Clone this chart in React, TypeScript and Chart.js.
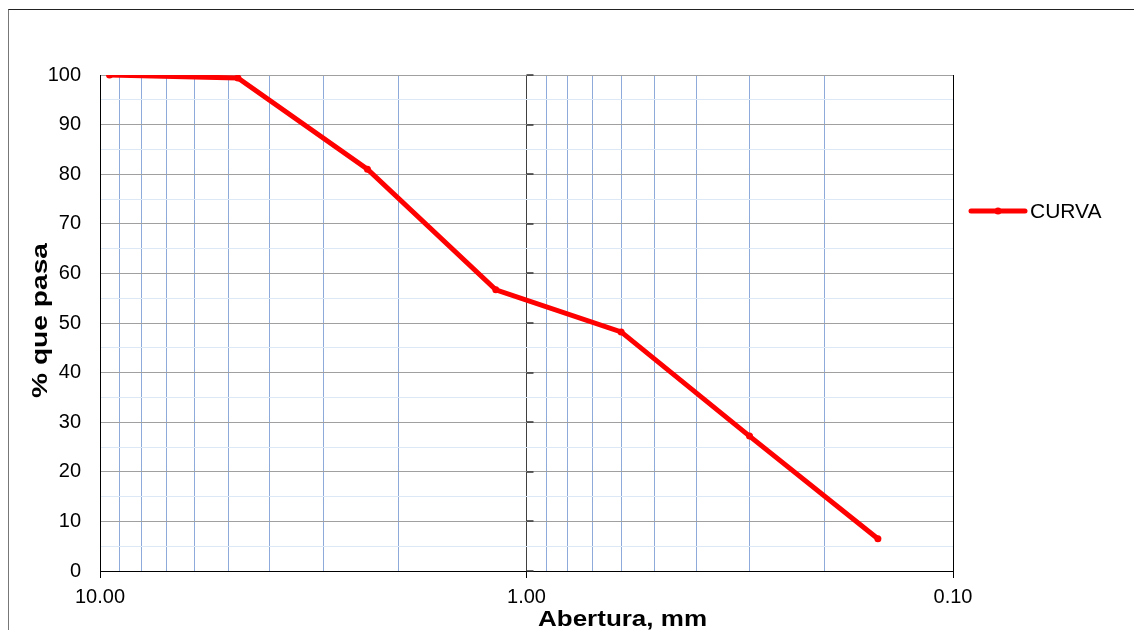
import { useEffect, useRef } from "react";
import { Chart, registerables } from "chart.js";

Chart.register(...registerables);

// Grain-size distribution: sieve opening (mm) vs. cumulative % passing
const sieveOpenings = [9.5, 4.75, 2.36, 1.18, 0.6, 0.3, 0.15];
const percentPassing = [100, 99.4, 81.0, 56.7, 48.2, 27.2, 6.5];
const seriesLabel = "CURVA";

// Log-axis grid values (one line per 1..9 step in each decade) and the labelled decades
const xGridValues = [10, 9, 8, 7, 6, 5, 4, 3, 2, 1, 0.9, 0.8, 0.7, 0.6, 0.5, 0.4, 0.3, 0.2, 0.1];
const xLabeledValues = [10, 1, 0.1];
const xMin = 0.1;
const xMax = 10;

const yMin = 0;
const yMax = 100;
const yGridStep = 5;
const yLabelStep = 10;

const xTitle = "Abertura, mm";
const yTitle = "% que pasa";

const FONT = "'Liberation Sans', Arial, sans-serif";
const RED = "#ff0000";

const isDecade = (v: number) => xLabeledValues.some((d) => Math.abs(d - v) < 1e-9);

const decorations = {
  id: "decorations",
  beforeDatasetsDraw(chart: any) {
    // small tick marks on the secondary vertical axis at 1 mm
    const { ctx, scales } = chart;
    const px = scales.x.getPixelForValue(1);
    ctx.save();
    ctx.strokeStyle = "#333333";
    ctx.lineWidth = 1.5;
    for (let v = yMin; v <= yMax; v += yLabelStep) {
      const py = Math.round(scales.y.getPixelForValue(v));
      ctx.beginPath();
      ctx.moveTo(px, py);
      ctx.lineTo(px + 7, py);
      ctx.stroke();
    }
    ctx.restore();
  },
  afterDraw(chart: any) {
    const { ctx, chartArea } = chart;
    ctx.save();
    ctx.fillStyle = "#000";

    // x-axis title
    ctx.font = `bold 22px ${FONT}`;
    let w = ctx.measureText(xTitle).width;
    ctx.save();
    ctx.translate((chartArea.left + chartArea.right) / 2 + 96, chartArea.bottom + 55);
    ctx.scale(169 / w, 1);
    ctx.textAlign = "center";
    ctx.textBaseline = "alphabetic";
    ctx.fillText(xTitle, 0, 0);
    ctx.restore();

    // y-axis title
    w = ctx.measureText(yTitle).width;
    ctx.save();
    ctx.translate(chartArea.left - 53, chartArea.top + 245.5);
    ctx.rotate(-Math.PI / 2);
    ctx.scale(155 / w, 1);
    ctx.textAlign = "center";
    ctx.textBaseline = "alphabetic";
    ctx.fillText(yTitle, 0, 0);
    ctx.restore();

    // legend
    const lx = chartArea.right + 18;
    const ly = chartArea.top + 136;
    ctx.strokeStyle = RED;
    ctx.lineWidth = 5;
    ctx.lineCap = "round";
    ctx.beginPath();
    ctx.moveTo(lx, ly);
    ctx.lineTo(lx + 54, ly);
    ctx.stroke();
    ctx.fillStyle = RED;
    ctx.beginPath();
    ctx.arc(lx + 27, ly, 3.5, 0, Math.PI * 2);
    ctx.fill();
    ctx.fillStyle = "#000";
    ctx.font = `21px ${FONT}`;
    ctx.textAlign = "left";
    ctx.textBaseline = "middle";
    ctx.fillText(seriesLabel, lx + 59, ly + 1);
    ctx.restore();
  },
};

export default function App() {
  const canvasRef = useRef<HTMLCanvasElement>(null);

  useEffect(() => {
    const canvas = canvasRef.current;
    if (!canvas) return;
    const chart = new Chart(canvas, {
      type: "line",
      data: {
        datasets: [
          {
            label: seriesLabel,
            data: sieveOpenings.map((x, i) => ({ x, y: percentPassing[i] })),
            borderColor: RED,
            backgroundColor: RED,
            borderWidth: 5,
            pointRadius: 3.5,
            pointBackgroundColor: RED,
            pointBorderWidth: 0,
            tension: 0,
            fill: false,
          },
        ],
      },
      options: {
        animation: false,
        responsive: false,
        devicePixelRatio: 1,
        layout: { padding: { left: 0, top: 75, right: 181, bottom: 0 } },
        plugins: {
          legend: { display: false },
          tooltip: { enabled: false },
        },
        scales: {
          x: {
            type: "logarithmic",
            reverse: true,
            min: xMin,
            max: xMax,
            afterBuildTicks: (scale: any) => {
              scale.ticks = xGridValues.map((value) => ({ value }));
            },
            afterFit: (scale: any) => {
              scale.height = 59;
            },
            ticks: {
              autoSkip: false,
              maxRotation: 0,
              padding: 7,
              color: "#000",
              font: { family: FONT, size: 20 },
              callback: (v: any) => (isDecade(Number(v)) ? Number(v).toFixed(2) : ""),
            },
            grid: {
              color: (c: any) => {
                const v = c.tick?.value;
                if (v === undefined) return "#8eaadb";
                if (Math.abs(v - 1) < 1e-9) return "#404040";
                if (isDecade(v)) return "#000";
                return "#8eaadb";
              },
              lineWidth: 1,
              drawTicks: true,
              tickLength: 7,
              tickColor: (c: any) => (c.tick && isDecade(c.tick.value) ? "#000" : "rgba(0,0,0,0)"),
            },
            border: { color: "#000", width: 1 },
          },
          y: {
            type: "linear",
            min: yMin,
            max: yMax,
            afterFit: (scale: any) => {
              scale.width = 100;
            },
            ticks: {
              stepSize: yGridStep,
              autoSkip: false,
              padding: 19,
              color: "#000",
              font: { family: FONT, size: 20 },
              callback: (v: any) => (Number(v) % yLabelStep === 0 ? String(v) : ""),
            },
            grid: {
              color: (c: any) =>
                c.tick && c.tick.value % yLabelStep === 0 ? "#a0a0a0" : "#dce8f6",
              lineWidth: 1,
              drawTicks: false,
            },
            border: { color: "#000", width: 1 },
          },
        },
      },
      plugins: [decorations],
    } as any);
    return () => chart.destroy();
  }, []);

  return (
    <div
      style={{
        position: "absolute",
        left: 0,
        top: 0,
        width: 1134,
        height: 630,
        overflow: "hidden",
        background: "#fff",
      }}
    >
      <div
        style={{
          position: "absolute",
          left: 8,
          top: 9,
          width: 1200,
          height: 700,
          borderTop: "1px solid #222",
          borderLeft: "1px solid #777",
        }}
      />
      <canvas
        ref={canvasRef}
        width={1134}
        height={630}
        style={{ position: "absolute", left: 0, top: 0, width: 1134, height: 630 }}
      />
    </div>
  );
}
